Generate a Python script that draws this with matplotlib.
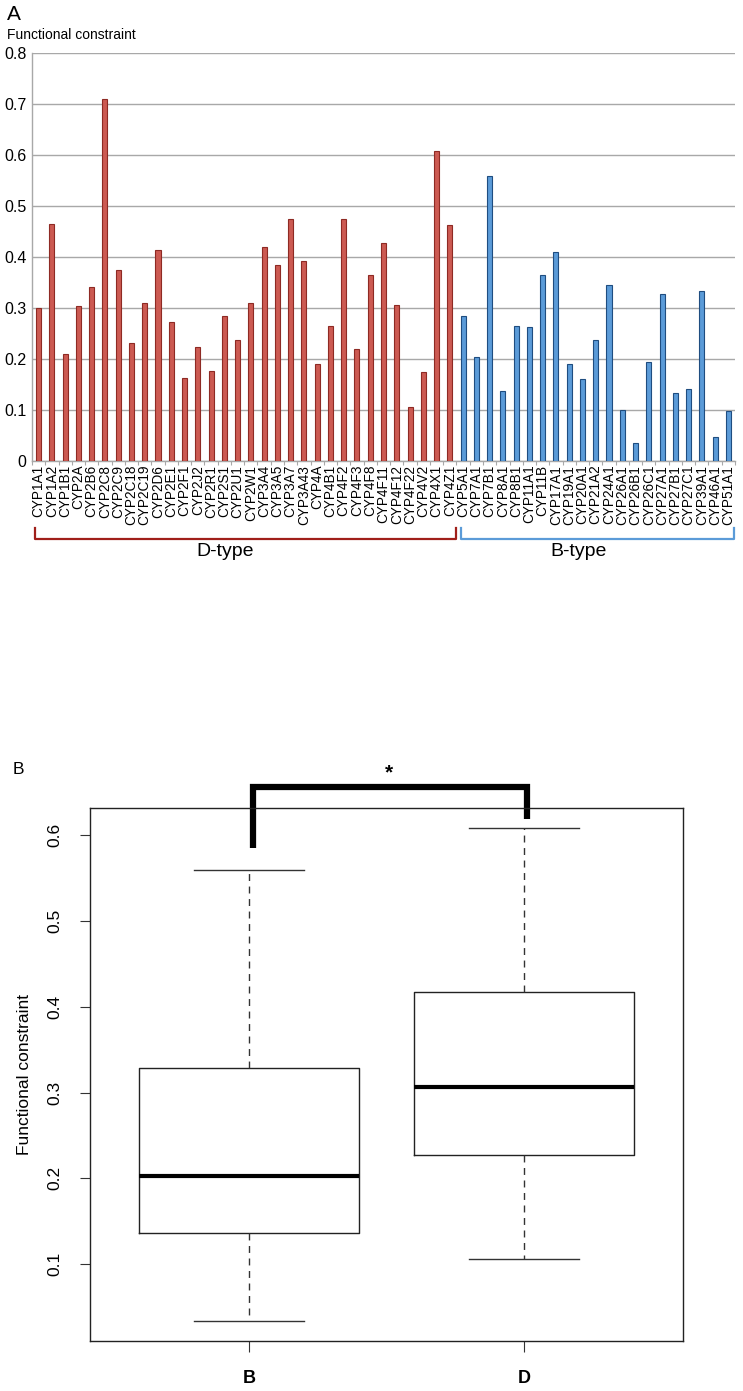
import matplotlib
matplotlib.use("Agg")
import matplotlib.pyplot as plt
import matplotlib.transforms as mtransforms
import numpy as np

plt.rcParams["font.family"] = ["Liberation Sans", "DejaVu Sans"]

# Panel A data: functional constraint per CYP gene
d_genes = ["CYP1A1", "CYP1A2", "CYP1B1", "CYP2A", "CYP2B6", "CYP2C8", "CYP2C9",
           "CYP2C18", "CYP2C19", "CYP2D6", "CYP2E1", "CYP2F1", "CYP2J2", "CYP2R1",
           "CYP2S1", "CYP2U1", "CYP2W1", "CYP3A4", "CYP3A5", "CYP3A7", "CYP3A43",
           "CYP4A", "CYP4B1", "CYP4F2", "CYP4F3", "CYP4F8", "CYP4F11", "CYP4F12",
           "CYP4F22", "CYP4V2", "CYP4X1", "CYP4Z1"]
d_values = [0.300, 0.465, 0.209, 0.303, 0.341, 0.711, 0.374,
            0.231, 0.310, 0.413, 0.272, 0.163, 0.223, 0.177,
            0.285, 0.237, 0.309, 0.420, 0.384, 0.474, 0.392,
            0.190, 0.264, 0.474, 0.220, 0.365, 0.428, 0.305,
            0.106, 0.175, 0.608, 0.462]

b_genes = ["CYP5A1", "CYP7A1", "CYP7B1", "CYP8A1", "CYP8B1", "CYP11A1", "CYP11B",
           "CYP17A1", "CYP19A1", "CYP20A1", "CYP21A2", "CYP24A1", "CYP26A1",
           "CYP26B1", "CYP26C1", "CYP27A1", "CYP27B1", "CYP27C1", "CYP39A1",
           "CYP46A1", "CYP51A1"]
b_values = [0.285, 0.203, 0.559, 0.137, 0.264, 0.262, 0.364,
            0.409, 0.190, 0.160, 0.238, 0.346, 0.099,
            0.034, 0.193, 0.328, 0.133, 0.141, 0.333,
            0.047, 0.098]

# Panel B groups
box_groups = ["B", "D"]

red_fill, red_edge = "#cc5a52", "#8e2a24"
blue_fill, blue_edge = "#5b9bd8", "#1f4d80"


def r_box_stats(vals):
    """Tukey hinges + 1.5 IQR whiskers, like R's boxplot.stats."""
    x = np.sort(np.asarray(vals))
    n = len(x)
    n4 = np.floor((n + 3) / 2) / 2
    d = np.array([1, n4, (n + 1) / 2, n + 1 - n4, n]) - 1
    five = 0.5 * (x[np.floor(d).astype(int)] + x[np.ceil(d).astype(int)])
    iqr = five[3] - five[1]
    lo = x[x >= five[1] - 1.5 * iqr].min()
    hi = x[x <= five[3] + 1.5 * iqr].max()
    return dict(med=five[2], q1=five[1], q3=five[3], whislo=lo, whishi=hi, fliers=[])


W, H = 743, 1391
fig = plt.figure(figsize=(W / 100, H / 100), dpi=100)

# ---------------- Panel A ----------------
ax1 = fig.add_axes([32 / W, 930.3 / H, 703 / W, 407.3 / H])
genes = d_genes + b_genes
values = d_values + b_values
x = np.arange(len(genes))
colors = [red_fill] * len(d_genes) + [blue_fill] * len(b_genes)
edges = [red_edge] * len(d_genes) + [blue_edge] * len(b_genes)
ax1.bar(x, values, width=0.38, color=colors, edgecolor=edges, linewidth=0.8, zorder=3)

ax1.set_xlim(-0.5, len(genes) - 0.5)
ax1.set_ylim(0, 0.8)
yt = np.arange(0, 0.81, 0.1)
ax1.set_yticks(yt)
ax1.set_yticklabels(["0"] + [f"{v:.1f}" for v in yt[1:]], fontsize=11.5)
ax1.tick_params(axis="y", length=0, pad=4)
ax1.yaxis.grid(True, color="#a8a8a8", linewidth=1, zorder=0)
ax1.set_axisbelow(True)

ax1.set_xticks(x)
ax1.set_xticklabels(genes, rotation=90, fontsize=9.8, va="top", ha="center")
ax1.tick_params(axis="x", which="major", length=0, pad=3)
ax1.set_xticks(np.arange(-0.5, len(genes)), minor=True)
ax1.tick_params(axis="x", which="minor", length=3, color="#a8a8a8", width=0.8)

for s in ["top", "right"]:
    ax1.spines[s].set_visible(False)
for s in ["left", "bottom"]:
    ax1.spines[s].set_color("#a8a8a8")
    ax1.spines[s].set_linewidth(1)

fig.text(7 / W, 1 - 15 / H, "A", fontsize=15, va="center", ha="left")
fig.text(7 / W, 1 - 35 / H, "Functional constraint", fontsize=10, va="center", ha="left")

# group brackets under the gene labels
trans = mtransforms.blended_transform_factory(ax1.transData, ax1.transAxes)
nd = len(d_genes)
nt = len(genes)
y_lo, y_hi = -0.192, -0.165
ax1.plot([-0.27, -0.27, nd - 0.55, nd - 0.55], [y_hi, y_lo, y_lo, y_hi],
         color="#a01f1a", lw=1.6, transform=trans, clip_on=False)
ax1.plot([nd - 0.17, nd - 0.17, nt - 0.56, nt - 0.56], [y_hi, y_lo, y_lo, y_hi],
         color="#5b9bd8", lw=1.6, transform=trans, clip_on=False)
ax1.text(14.05, -0.222, "D-type", fontsize=14, ha="center", va="center", transform=trans)
ax1.text(40.68, -0.222, "B-type", fontsize=14, ha="center", va="center", transform=trans)

# ---------------- Panel B ----------------
ax2 = fig.add_axes([90 / W, 50.3 / H, 593 / W, 532.4 / H])
stats = [r_box_stats(b_values), r_box_stats(d_values)]
for st, lab in zip(stats, box_groups):
    st["label"] = lab
ax2.bxp(stats, positions=[1, 2], widths=0.8, showfliers=False,
        boxprops=dict(color="#222222", linewidth=1),
        medianprops=dict(color="black", linewidth=3, solid_capstyle="butt"),
        whiskerprops=dict(color="#333333", linewidth=1, linestyle=(0, (5, 4))),
        capprops=dict(color="#333333", linewidth=1),
        capwidths=0.4)

lo = min(s["whislo"] for s in stats)
hi = max(s["whishi"] for s in stats)
pad = 0.04 * (hi - lo)
ax2.set_ylim(lo - pad, hi + pad)
ax2.set_xlim(0.42, 2.58)
ax2.set_yticks([0.1, 0.2, 0.3, 0.4, 0.5, 0.6])
ax2.set_yticklabels(["0.1", "0.2", "0.3", "0.4", "0.5", "0.6"], rotation=90,
                    va="center", fontsize=12.5)
ax2.tick_params(axis="y", length=7, width=0.8, pad=13, color="#333333")
ax2.set_xticks([1, 2])
ax2.set_xticklabels(box_groups, fontsize=13, fontweight="bold")
ax2.tick_params(axis="x", length=8, width=0.8, pad=13, color="#333333")
for s in ax2.spines.values():
    s.set_color("#222222")
    s.set_linewidth(1)
ax2.set_ylabel("Functional constraint", fontsize=12.5, labelpad=11)

# significance bracket
ax2.plot([1.012, 1.012, 2.011, 2.011], [0.585, 0.656, 0.656, 0.618],
         color="black", lw=4.5, solid_joinstyle="miter", solid_capstyle="butt",
         clip_on=False)
ax2.text(1.51, 0.672, "*", fontsize=15, fontweight="bold", ha="center", va="center")

fig.text(13 / W, 1 - 770 / H, "B", fontsize=12.5, va="center", ha="left")

fig.savefig("out.png", dpi=100)
